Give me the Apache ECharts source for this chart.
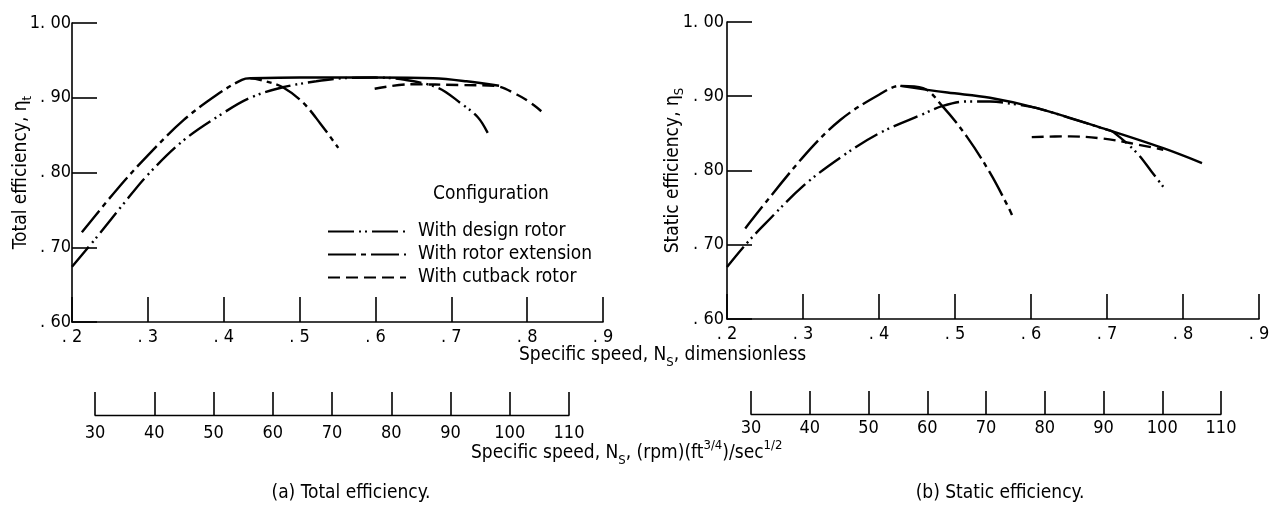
<!DOCTYPE html>
<html>
<head>
<meta charset="utf-8">
<script src="https://cdn.jsdelivr.net/npm/echarts@6/dist/echarts.min.js"></script>
<style>
html,body{margin:0;padding:0;background:#fff;}
#chart{width:1279px;height:505px;}
</style>
</head>
<body>
<div id="chart"></div>
<script>
// ---------- data (x = specific speed dimensionless, y = efficiency) ----------
const xTickLabels = ['. 2', '. 3', '. 4', '. 5', '. 6', '. 7', '. 8', '. 9'];
const yTickLabels = ['. 60', '. 70', '. 80', '. 90', '1. 00'];
const rpmTickLabels = ['30', '40', '50', '60', '70', '80', '90', '100', '110'];
const legendNames = ['With design rotor', 'With rotor extension', 'With cutback rotor'];

// (a) Total efficiency
const designTotal = [[0.200,0.674],[0.233,0.714],[0.267,0.757],[0.300,0.797],[0.347,0.843],[0.400,0.880],[0.435,0.900],[0.478,0.914],[0.522,0.922],[0.556,0.926],[0.600,0.927],[0.639,0.924],[0.683,0.913],[0.712,0.893],[0.735,0.874],[0.748,0.853]];
const extensionTotal = [[0.213,0.720],[0.259,0.777],[0.300,0.823],[0.347,0.870],[0.391,0.904],[0.424,0.924],[0.435,0.926],[0.455,0.922],[0.478,0.914],[0.505,0.893],[0.527,0.866],[0.551,0.833]];
const envelopeTotal = [[0.435,0.926],[0.500,0.927],[0.600,0.927],[0.676,0.926],[0.720,0.922],[0.763,0.916]];
const cutbackTotal = [[0.599,0.912],[0.646,0.918],[0.712,0.917],[0.757,0.916],[0.787,0.904],[0.809,0.890],[0.824,0.877]];

// (b) Static efficiency
const designStatic = [[0.200,0.670],[0.226,0.702],[0.250,0.728],[0.300,0.779],[0.350,0.818],[0.400,0.850],[0.458,0.876],[0.484,0.887],[0.516,0.893],[0.546,0.893],[0.580,0.889],[0.608,0.884],[0.650,0.871],[0.700,0.855],[0.708,0.852],[0.739,0.824],[0.759,0.798],[0.774,0.778]];
const extensionStatic = [[0.224,0.722],[0.300,0.818],[0.349,0.868],[0.400,0.902],[0.428,0.914],[0.458,0.911],[0.484,0.886],[0.516,0.845],[0.546,0.797],[0.570,0.751],[0.575,0.740]];
const envelopeStatic = [[0.428,0.914],[0.490,0.905],[0.546,0.898],[0.608,0.884],[0.700,0.855],[0.774,0.830],[0.825,0.810]];
const cutbackStatic = [[0.601,0.845],[0.651,0.846],[0.695,0.843],[0.730,0.837],[0.774,0.828]];

// ---------- styling ----------
const FONT = "'DejaVu Sans Condensed', 'Liberation Sans Narrow', 'DejaVu Sans', sans-serif";
const BLACK = '#000';
const dashDesign = [26, 5, 2, 4, 2, 5];
const dashExtension = [28, 5, 5, 5];
const dashCutback = [12, 6];

function curve(name, data, idx, dash) {
  return {
    type: 'line', name: name, data: data,
    xAxisIndex: idx, yAxisIndex: idx,
    smooth: 0.35, symbol: 'none', showSymbol: false,
    lineStyle: { color: BLACK, width: 2.4, type: dash },
    itemStyle: { color: BLACK },
    emphasis: { disabled: true },
    silent: true
  };
}

function mainX(gridIndex) {
  return {
    gridIndex: gridIndex, type: 'value', min: 0.2, max: 0.9, interval: 0.1,
    axisLine: { show: true, onZero: false, lineStyle: { color: BLACK, width: 1.6 } },
    axisTick: { show: true, inside: true, length: 25, lineStyle: { color: BLACK, width: 1.6 } },
    axisLabel: { color: BLACK, fontSize: 18, fontFamily: FONT, margin: 6,
      formatter: function (v) { return xTickLabels[Math.round((v - 0.2) * 10)]; } },
    splitLine: { show: false }
  };
}
function mainY(gridIndex, name, nameGap, margin) {
  return {
    gridIndex: gridIndex, type: 'value', min: 0.6, max: 1.0, interval: 0.1,
    axisLine: { show: true, onZero: false, lineStyle: { color: BLACK, width: 1.6 } },
    axisTick: { show: true, inside: true, length: 25, lineStyle: { color: BLACK, width: 1.6 } },
    axisLabel: { color: BLACK, fontSize: 18, fontFamily: FONT, margin: margin,
      formatter: function (v) { return yTickLabels[Math.round((v - 0.6) * 10)]; } },
    splitLine: { show: false },
    name: name, nameLocation: 'middle', nameRotate: 90, nameGap: nameGap,
    nameMoveOverlap: false,
    nameTextStyle: {
      color: BLACK, fontFamily: FONT, fontSize: 19,
      rich: {
        a: { fontSize: 19, fontFamily: FONT, color: BLACK, lineHeight: 26 },
        s: { fontSize: 13, fontFamily: FONT, color: BLACK, lineHeight: 13, verticalAlign: 'bottom' }
      }
    }
  };
}
function rpmX(gridIndex, margin) {
  return {
    gridIndex: gridIndex, type: 'value', min: 30, max: 110, interval: 10,
    axisLine: { show: true, onZero: false, lineStyle: { color: BLACK, width: 1.4 } },
    axisTick: { show: true, inside: true, length: 23, lineStyle: { color: BLACK, width: 1.6 } },
    axisLabel: { color: BLACK, fontSize: 18, fontFamily: FONT, margin: margin,
      formatter: function (v) { return rpmTickLabels[Math.round((v - 30) / 10)]; } },
    splitLine: { show: false }
  };
}
function hiddenY(gridIndex) {
  return { gridIndex: gridIndex, type: 'value', min: 0, max: 1, show: false };
}

const richText = {
  a: { fontSize: 19, fontFamily: FONT, fill: BLACK, color: BLACK, lineHeight: 28 },
  s: { fontSize: 13, fontFamily: FONT, fill: BLACK, color: BLACK, lineHeight: 13, verticalAlign: 'bottom' },
  p: { fontSize: 13, fontFamily: FONT, fill: BLACK, color: BLACK, lineHeight: 13, verticalAlign: 'top' }
};

function label(x, y, text, size, align) {
  return {
    type: 'text', x: x, y: y, silent: true,
    style: { text: text, fill: BLACK, font: size + 'px ' + FONT, align: align || 'left', verticalAlign: 'middle' }
  };
}
function richLabel(x, y, text) {
  return {
    type: 'text', x: x, y: y, silent: true,
    style: { text: text, fill: BLACK, font: '19px ' + FONT, align: 'left', verticalAlign: 'middle', rich: richText }
  };
}

const option = {
  backgroundColor: '#fff',
  animation: false,
  grid: [
    { left: 72, top: 23, width: 531, height: 299 },
    { left: 727, top: 22, width: 532, height: 297 },
    { left: 95, top: 390, width: 474, height: 25 },
    { left: 751, top: 389, width: 470, height: 25 }
  ],
  xAxis: [mainX(0), mainX(1), rpmX(2, 9), rpmX(3, 5)],
  yAxis: [
    mainY(0, '{a|Total efficiency, η}{s|t}', 38, 1),
    mainY(1, '{a|Static efficiency, η}{s|S}', 41, 3),
    hiddenY(2), hiddenY(3)
  ],
  legend: {
    data: legendNames, orient: 'vertical', left: 322, top: 217,
    itemWidth: 78, itemHeight: 14, itemGap: 4,
    selectedMode: false,
    itemStyle: { opacity: 0, color: 'rgba(0,0,0,0)', borderWidth: 0 },
    textStyle: { color: BLACK, fontSize: 19, fontFamily: FONT, padding: [0, 0, 0, 7] }
  },
  series: [
    curve('With design rotor', designTotal, 0, dashDesign),
    curve('With rotor extension', extensionTotal, 0, dashExtension),
    curve('envelope', envelopeTotal, 0, 'solid'),
    curve('With cutback rotor', cutbackTotal, 0, dashCutback),
    curve('With design rotor', designStatic, 1, dashDesign),
    curve('With rotor extension', extensionStatic, 1, dashExtension),
    curve('envelope', envelopeStatic, 1, 'solid'),
    curve('With cutback rotor', cutbackStatic, 1, dashCutback)
  ],
  graphic: [
    label(433, 194, 'Configuration', 19),
    richLabel(519, 355, '{a|Specific speed, N}{s|S}{a|, dimensionless}'),
    richLabel(471, 453, '{a|Specific speed, N}{s|S}{a|, (rpm)(ft}{p|3/4}{a|)/sec}{p|1/2}'),
    label(351, 493, '(a) Total efficiency.', 19, 'center'),
    label(1000, 493, '(b) Static efficiency.', 19, 'center')
  ]
};

const chart = echarts.init(document.getElementById('chart'), null, { renderer: 'canvas' });
chart.setOption(option);
</script>
</body>
</html>
